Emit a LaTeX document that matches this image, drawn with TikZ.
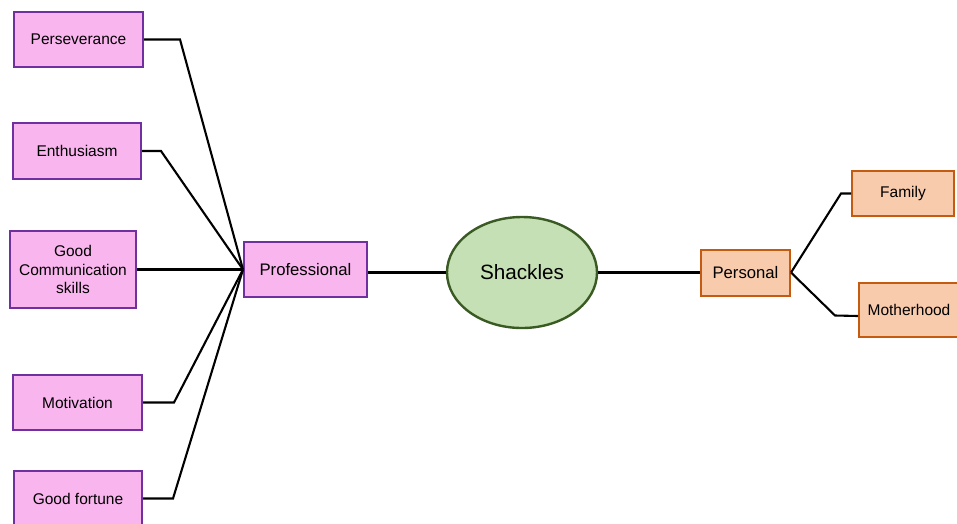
\documentclass[tikz,border=0pt]{standalone}
\usepackage{fontspec}
\setmainfont{Liberation Sans}
\usetikzlibrary{shapes.geometric}
\definecolor{pinkfill}{HTML}{F9B5EE}
\definecolor{purpleline}{HTML}{7030A0}
\definecolor{greenfill}{HTML}{C5E0B4}
\definecolor{greenline}{HTML}{3A5A23}
\definecolor{orangefill}{HTML}{F8CBAD}
\definecolor{orangeline}{HTML}{C55A11}
\tikzset{
  pbox/.style={draw=purpleline, fill=pinkfill, line width=2pt, inner sep=0pt, align=center, font=\fontsize{15.5}{18.5}\selectfont},
  obox/.style={draw=orangeline, fill=orangefill, line width=2pt, inner sep=0pt, align=center, font=\fontsize{15.5}{18.5}\selectfont},
  link/.style={draw=black, line width=2.1pt},
  thick link/.style={draw=black, line width=3.2pt}
}
\begin{document}
\begin{tikzpicture}[x=1pt,y=-1pt]
\clip (0,0) rectangle (957,523);
\fill[white] (0,0) rectangle (957,523);
\node[pbox, minimum width=129pt, minimum height=55pt] (pers) at (78.5,39.5) {Perseverance};
\node[pbox, minimum width=128pt, minimum height=56pt] (enth) at (77,151) {Enthusiasm};
\node[pbox, minimum width=126pt, minimum height=77pt] (comm) at (73,269.5) {Good\\Communication\\skills};
\node[pbox, minimum width=129pt, minimum height=55pt] (moti) at (77.5,402.5) {Motivation};
\node[pbox, minimum width=128pt, minimum height=55pt] (fort) at (78,498.5) {Good fortune};
\node[pbox, minimum width=123pt, minimum height=55pt, font=\fontsize{16.7}{20}\selectfont] (prof) at (305.5,269.5) {Professional};
\node[ellipse, draw=greenline, fill=greenfill, line width=2.4pt, minimum width=150pt, minimum height=111pt, inner sep=0pt, font=\fontsize{20.7}{24}\selectfont] (shack) at (522,272.5) {Shackles};
\node[obox, minimum width=89pt, minimum height=46pt, font=\fontsize{16.7}{20}\selectfont] (persn) at (745.5,272.5) {Personal};
\node[obox, minimum width=102pt, minimum height=45pt] (fam) at (903,193.5) {Family};
\node[obox, minimum width=100pt, minimum height=54pt] (moth) at (909,310) {Motherhood};
\draw[link] (pers.east) -- ++(36,0) -- (prof.west);
\draw[link] (enth.east) -- ++(19,0) -- (prof.west);
\draw[link] (comm.east) -- (prof.west);
\draw[link] (moti.east) -- ++(31,0) -- (prof.west);
\draw[link] (fort.east) -- ++(30,0) -- (prof.west);
\draw[thick link] (prof.east |- shack.west) -- (shack.west);
\draw[thick link] (shack.east) -- (persn.west);
\draw[link] (persn.east) -- ++(50,-79) -- (fam.west);
\draw[link] (persn.east) -- ++(44,43) -- ([yshift=-6pt]moth.west);
\end{tikzpicture}
\end{document}
